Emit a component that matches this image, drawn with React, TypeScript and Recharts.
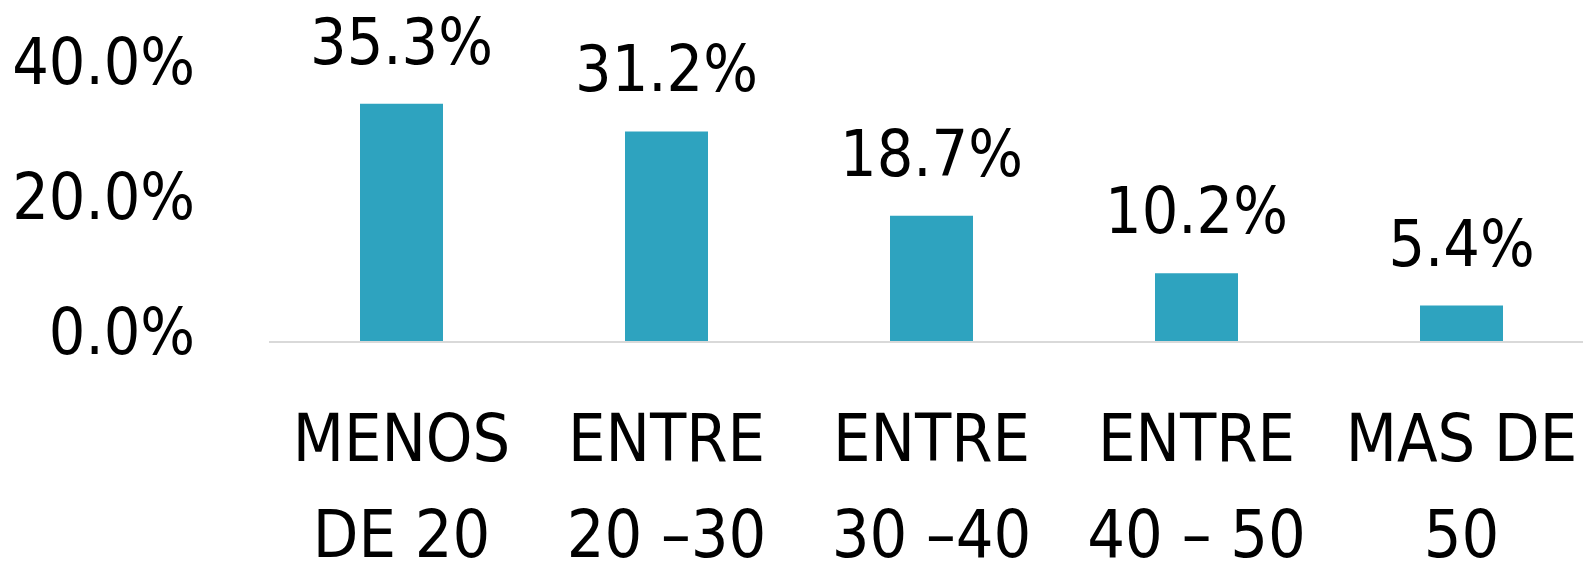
import { BarChart, Bar, XAxis, YAxis, LabelList } from 'recharts';

// Age groups and their share
const categories = ['MENOS\nDE 20', 'ENTRE\n20 –30', 'ENTRE\n30 –40', 'ENTRE\n40 – 50', 'MAS DE\n50'];
const shares = [35.3, 31.2, 18.7, 10.2, 5.4];
const yTicks = [0, 20, 40];

const BAR_COLOR = '#2ea3bf';
const AXIS_COLOR = '#d9d9d9';
const FONT = "'DejaVu Sans Condensed', 'DejaVu Sans', sans-serif";
const FONT_SIZE = 64;
const CAT_FONT_SIZE = 66;

const data = categories.map((name, i) => ({ name, value: shares[i] }));

const fmt = (v: number) => `${v.toFixed(1)}%`;

function YTick({ x, y, payload }: any) {
  return (
    <text
      x={x}
      y={y + 12}
      textAnchor="end"
      fill="#000"
      fontFamily={FONT}
      fontSize={FONT_SIZE}
      style={{ fontStretch: 'condensed' }}
    >
      {fmt(payload.value)}
    </text>
  );
}

function XTick({ x, y, payload }: any) {
  const lines = String(payload.value).split('\n');
  return (
    <text
      x={x}
      y={y}
      textAnchor="middle"
      fill="#000"
      fontFamily={FONT}
      fontSize={CAT_FONT_SIZE}
      style={{ fontStretch: 'condensed', whiteSpace: 'pre' }}
    >
      {lines.map((l, i) => (
        <tspan key={i} x={x} y={y + 119 + i * 96}>
          {l}
        </tspan>
      ))}
    </text>
  );
}

function ValueLabel({ x, y, width, value }: any) {
  return (
    <text
      x={x + width / 2}
      y={y - 40}
      textAnchor="middle"
      fill="#000"
      fontFamily={FONT}
      fontSize={FONT_SIZE}
      style={{ fontStretch: 'condensed' }}
    >
      {fmt(value)}
    </text>
  );
}

export default function App() {
  return (
    <div style={{ position: 'absolute', left: 0, top: 0, width: 1583, height: 561, overflow: 'hidden', background: '#fff' }}>
      <BarChart width={1594} height={561} data={data} margin={{ top: 72, right: 0, left: 0, bottom: 0 }}>
        <XAxis
          dataKey="name"
          interval={0}
          height={219}
          tickLine={false}
          tickSize={0}
          tickMargin={0}
          axisLine={{ stroke: AXIS_COLOR, strokeWidth: 2 }}
          tick={<XTick />}
        />
        <YAxis
          domain={[0, 40]}
          ticks={yTicks}
          width={269}
          axisLine={false}
          tickLine={false}
          tickSize={0}
          tickMargin={74}
          tick={<YTick />}
        />
        <Bar dataKey="value" fill={BAR_COLOR} barSize={83} isAnimationActive={false}>
          <LabelList dataKey="value" content={<ValueLabel />} />
        </Bar>
      </BarChart>
    </div>
  );
}
